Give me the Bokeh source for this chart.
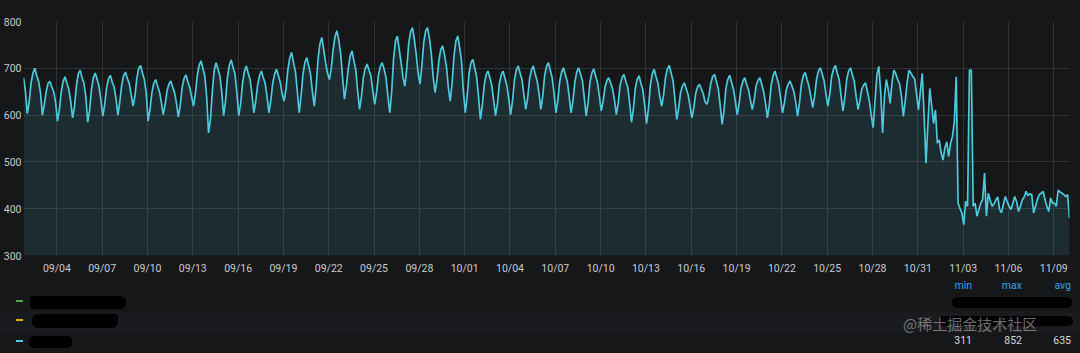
import pandas as pd
from bokeh.plotting import figure
from bokeh.models import Range1d, FixedTicker, DatetimeTickFormatter, Label, ColumnDataSource, Div
from bokeh.layouts import column
from bokeh.embed import file_html
from bokeh.resources import INLINE

# ---------------- data ----------------
series_name = "detail dur_time"
start_time = "2023-09-01 19:00"
sample_step = "3h"
# one row per day, samples at 01,04,07,10,13,16,19,22 h
dur_time = [
    680, 652,                                   # 09/01 (19h, 22h)
    603, 628, 668, 690, 700, 684, 672, 648,     # 09/02
    600, 622, 650, 668, 672, 660, 650, 628,     # 09/03
    587, 612, 650, 672, 682, 668, 655, 630,     # 09/04
    594, 618, 662, 688, 696, 680, 668, 640,     # 09/05
    585, 610, 655, 680, 690, 676, 662, 632,     # 09/06
    598, 622, 658, 678, 685, 670, 660, 635,     # 09/07
    600, 628, 664, 684, 692, 678, 668, 645,     # 09/08
    619, 640, 678, 700, 706, 690, 676, 648,     # 09/09
    587, 612, 648, 668, 676, 662, 650, 628,     # 09/10
    601, 622, 652, 666, 673, 660, 648, 626,     # 09/11
    596, 620, 658, 678, 686, 672, 660, 640,     # 09/12
    619, 645, 684, 706, 716, 700, 684, 640,     # 09/13
    562, 590, 650, 696, 712, 698, 684, 650,     # 09/14
    599, 630, 680, 706, 718, 702, 688, 648,     # 09/15
    599, 624, 668, 694, 705, 690, 676, 645,     # 09/16
    605, 630, 664, 684, 694, 680, 668, 640,     # 09/17
    605, 632, 668, 688, 698, 684, 670, 645,     # 09/18
    630, 655, 696, 722, 734, 712, 694, 652,     # 09/19
    605, 640, 686, 712, 723, 706, 688, 650,     # 09/20
    619, 660, 720, 752, 766, 740, 712, 690,     # 09/21
    676, 700, 740, 768, 780, 760, 730, 680,     # 09/22
    634, 662, 700, 726, 737, 716, 696, 650,     # 09/23
    612, 640, 680, 700, 709, 696, 684, 652,     # 09/24
    623, 648, 686, 704, 712, 698, 680, 640,     # 09/25
    605, 650, 720, 758, 769, 740, 712, 680,     # 09/26
    662, 700, 752, 778, 787, 762, 730, 690,     # 09/27
    666, 706, 756, 780, 787, 764, 730, 680,     # 09/28
    648, 676, 716, 740, 748, 728, 704, 660,     # 09/29
    630, 668, 726, 758, 769, 744, 716, 650,     # 09/30
    605, 640, 690, 712, 719, 700, 682, 640,     # 10/01
    591, 620, 664, 686, 694, 680, 664, 632,     # 10/02
    599, 624, 666, 686, 694, 678, 664, 635,     # 10/03
    601, 630, 674, 696, 705, 690, 676, 645,     # 10/04
    612, 636, 676, 696, 705, 688, 674, 648,     # 10/05
    612, 640, 684, 704, 712, 696, 680, 646,     # 10/06
    605, 632, 672, 692, 701, 686, 672, 640,     # 10/07
    605, 630, 670, 692, 701, 688, 674, 638,     # 10/08
    598, 626, 670, 690, 699, 684, 670, 640,     # 10/09
    609, 630, 660, 674, 680, 668, 656, 632,     # 10/10
    601, 626, 664, 680, 687, 672, 660, 628,     # 10/11
    585, 612, 656, 676, 684, 668, 654, 622,     # 10/12
    582, 614, 664, 688, 698, 682, 668, 640,     # 10/13
    619, 642, 680, 698, 706, 690, 674, 635,     # 10/14
    591, 614, 648, 662, 669, 656, 644, 620,     # 10/15
    594, 616, 646, 660, 666, 656, 646, 628,     # 10/16
    623, 640, 668, 682, 687, 672, 656, 620,     # 10/17
    580, 610, 656, 676, 685, 670, 656, 630,     # 10/18
    601, 624, 658, 672, 680, 666, 654, 632,     # 10/19
    612, 632, 662, 674, 680, 666, 650, 625,     # 10/20
    594, 622, 664, 684, 694, 680, 666, 636,     # 10/21
    605, 626, 654, 666, 673, 662, 650, 628,     # 10/22
    598, 626, 666, 684, 691, 676, 662, 640,     # 10/23
    616, 640, 676, 694, 701, 688, 674, 645,     # 10/24
    619, 644, 682, 698, 706, 690, 676, 642,     # 10/25
    609, 636, 676, 694, 701, 686, 672, 640,     # 10/26
    612, 632, 656, 664, 669, 650, 630, 600,     # 10/27
    573, 630, 686, 704, 650, 562, 640, 676,     # 10/28
    655, 625, 670, 696, 688, 676, 667, 640,     # 10/29
    597, 630, 670, 696, 690, 682, 678, 645,     # 10/30
    611, 650, 689, 600, 497, 580, 657, 620,     # 10/31
    582, 611, 540, 547, 520, 504, 530, 543,     # 11/01
    511, 540, 554, 586, 682, 412, 400, 391,     # 11/02
    366, 416, 405, 696, 696, 405, 412, 384,     # 11/03
    398, 412, 420, 476, 384, 433, 418, 405,     # 11/04
    410, 419, 425, 398, 391, 410, 426, 415,     # 11/05
    405, 398, 412, 426, 415, 394, 405, 419,     # 11/06
    425, 437, 428, 432, 430, 391, 405, 420,     # 11/07
    430, 433, 437, 420, 405, 394, 423, 412,     # 11/08
    412, 405, 440, 436, 433, 430, 426, 430,     # 11/09
    380,                                        # 11/10 01h
]
y_ticks = [300, 400, 500, 600, 700, 800]
tick_dates = ["2023-09-04", "2023-09-07", "2023-09-10", "2023-09-13", "2023-09-16",
              "2023-09-19", "2023-09-22", "2023-09-25", "2023-09-28", "2023-10-01",
              "2023-10-04", "2023-10-07", "2023-10-10", "2023-10-13", "2023-10-16",
              "2023-10-19", "2023-10-22", "2023-10-25", "2023-10-28", "2023-10-31",
              "2023-11-03", "2023-11-06", "2023-11-09"]
legend_colors = ["#56a64b", "#e0b400", "#4cc9da"]
stat_names = ["min", "max", "avg"]
stat_values = ["311", "852", "635"]
watermark = "@稀土掘金技术社区"

# ---------------- style ----------------
BG = "#161719"
LINE = "#4cc9da"
GRID = "#313236"
TXT = "#c8c9ce"
FONT = "Roboto"

times = pd.date_range(start_time, periods=len(dur_time), freq=sample_step)
src = ColumnDataSource(dict(t=times, v=dur_time))

main = figure(width=1080, height=280, x_axis_type="datetime",
              output_backend="svg", toolbar_location=None,
              x_range=Range1d(times[0].to_pydatetime(), times[-1].to_pydatetime()),
              y_range=Range1d(300, 800),
              min_border_left=23, min_border_right=11,
              min_border_top=21, min_border_bottom=25,
              background_fill_color=BG, border_fill_color=BG, outline_line_color=None,
              styles={"background-color": BG})

main.varea(x="t", y1=300, y2="v", source=src, fill_color=LINE, fill_alpha=0.12)
main.line(x="t", y="v", source=src, line_color=LINE, line_width=1.7)

tick_ms = [pd.Timestamp(d).value // 10**6 for d in tick_dates]
main.xaxis.ticker = FixedTicker(ticks=tick_ms)
fmt = "%m/%d"
main.xaxis.formatter = DatetimeTickFormatter(days=fmt, months=fmt, hours=fmt, hourmin=fmt,
                                             minutes=fmt, years=fmt)
main.yaxis.ticker = FixedTicker(ticks=y_ticks)
for ax in (main.xaxis[0], main.yaxis[0]):
    ax.axis_line_color = None
    ax.major_tick_line_color = None
    ax.minor_tick_line_color = None
    ax.major_tick_out = 0
    ax.major_tick_in = 0
    ax.minor_tick_out = 0
    ax.minor_tick_in = 0
    ax.major_label_text_color = TXT
    ax.major_label_text_font = FONT
    ax.major_label_text_font_size = "10.5px"
main.xaxis.major_label_standoff = 6
main.yaxis.major_label_standoff = 2
main.xgrid.grid_line_color = GRID
main.ygrid.grid_line_color = GRID

mid_x = times[0] + (times[-1] - times[0]) / 2
main.add_layout(Label(x=mid_x.to_pydatetime(), y=840, text="●", x_offset=-52,
                      text_color="#299c46", text_font_size="12px", text_font=FONT))
main.add_layout(Label(x=mid_x.to_pydatetime(), y=840, text=series_name, x_offset=-39,
                      text_color=TXT, text_font_size="12px", text_font=FONT))

# ---------------- legend table (HTML, 73px tall, below the chart) ----------------
def box(left, top, w, h, color, extra=""):
    return (f'<div style="position:absolute;left:{left}px;top:{top}px;width:{w}px;'
            f'height:{h}px;background:{color};{extra}"></div>')

def txt(right, top, s, color, size="10.5px", font=FONT, extra=""):
    return (f'<div style="position:absolute;right:{right}px;top:{top}px;color:{color};'
            f'font-family:\'{font}\';font-size:{size};line-height:1;white-space:nowrap;{extra}">{s}</div>')

parts = [box(0, 32, 1080, 20, "#1a1b1e")]
for ry, c in zip([21, 40, 61], legend_colors):
    parts.append(box(16, ry - 1, 7, 2, c))
# redacted names (black marker strokes)
for (l, t, w, h, r) in [(30, 16, 96, 13, "3px 6px 6px 3px"), (32, 34, 86, 14, "6px 3px 6px 6px"),
                        (29, 56, 43, 12, "5px"), (952, 17, 120, 11, "6px"),
                        (938, 36, 135, 10, "6px")]:
    parts.append(box(l, t, w, h, "#000000", f"border-radius:{r};"))
for rx, name, val in zip([972, 1022, 1071], stat_names, stat_values):
    parts.append(txt(1080 - rx, 1, name, "#33a2e5"))
    parts.append(txt(1080 - rx, 56, val, "#d8d9da"))
parts.append(f'<div style="position:absolute;left:903px;top:36px;color:rgba(200,200,200,0.55);'
             f'font-family:\'Noto Sans CJK SC\';font-size:15px;line-height:1;white-space:nowrap;">'
             f'{watermark}</div>')

legend_html = (f'<div style="position:relative;width:1080px;height:73px;overflow:hidden;'
               f'background:{BG};margin:0;padding:0;">' + "".join(parts) + "</div>")
leg = Div(text=legend_html, width=1080, height=73, margin=0, styles={"background-color": BG})

layout = column(main, leg, spacing=0, styles={"background-color": BG})
open("out.html", "w").write(file_html(layout, INLINE))
